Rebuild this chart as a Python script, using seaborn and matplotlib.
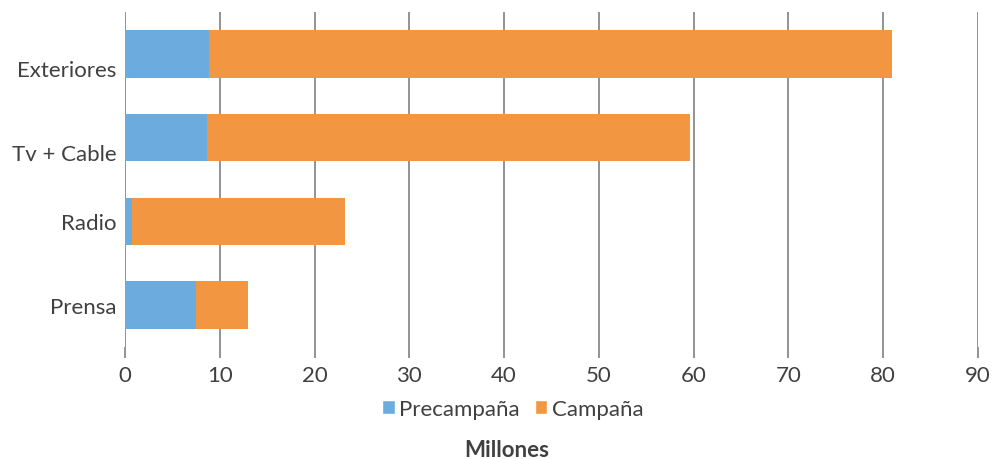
import pandas as pd
import numpy as np
import matplotlib.pyplot as plt
import matplotlib.transforms as mtransforms
import seaborn as sns
from matplotlib.patches import Patch

sns.set_theme(style="white")
plt.rcParams['font.family'] = ['Lato', 'DejaVu Sans']

# Data (millions)
categories = ['Exteriores', 'Tv + Cable', 'Radio', 'Prensa']
precampana = [8.9, 8.65, 0.7, 7.5]
campana = [72.0, 50.95, 22.5, 5.5]

blue = "#6CABDD"
orange = "#F39642"
text_color = "#404040"

df = pd.DataFrame({'Medio': categories, 'Precampaña': precampana, 'Campaña': campana})
df['Total'] = df['Precampaña'] + df['Campaña']

fig, ax = plt.subplots(figsize=(9.96, 4.6), dpi=100)
fig.subplots_adjust(left=125 / 996, right=978 / 996, top=1 - 13 / 460, bottom=1 - 348 / 460)

sns.barplot(data=df, x='Total', y='Medio', orient='h', color=orange, width=0.57,
            saturation=1, linewidth=0, ax=ax, zorder=3)
sns.barplot(data=df, x='Precampaña', y='Medio', orient='h', color=blue, width=0.57,
            saturation=1, linewidth=0, ax=ax, zorder=4)

ax.set_xlim(0, 90)
ax.set_xticks(np.arange(0, 91, 10))
ax.xaxis.grid(True, color="#8a8a8a", linewidth=1.3, zorder=0)
ax.yaxis.grid(False)
for s in ax.spines.values():
    s.set_visible(False)

ax.tick_params(axis='x', bottom=True, length=8, width=1.3, color="#8a8a8a",
               labelsize=16, labelcolor=text_color, pad=5)
ax.tick_params(axis='y', left=False, labelsize=16, labelcolor=text_color, pad=0)
ax.set_xlabel('')
ax.set_ylabel('')

# the top two category labels sit a little lower in the original
for lbl in ax.get_yticklabels()[:2]:
    lbl.set_transform(lbl.get_transform() + mtransforms.ScaledTranslation(0, -14 / 100, fig.dpi_scale_trans))

handles = [Patch(facecolor=blue, label='Precampaña'), Patch(facecolor=orange, label='Campaña')]
fig.legend(handles=handles, loc='center', bbox_to_anchor=(513 / 996, 1 - 410 / 460), ncol=2,
           frameon=False, fontsize=16, handlelength=0.55, handleheight=0.55,
           handletextpad=0.2, columnspacing=0.7, labelcolor=text_color)

fig.text(507 / 996, 1 - 451 / 460, 'Millones', ha='center', va='center', fontsize=16,
         fontweight='bold', color=text_color)

plt.savefig('out.png', dpi=100)
plt.close()
